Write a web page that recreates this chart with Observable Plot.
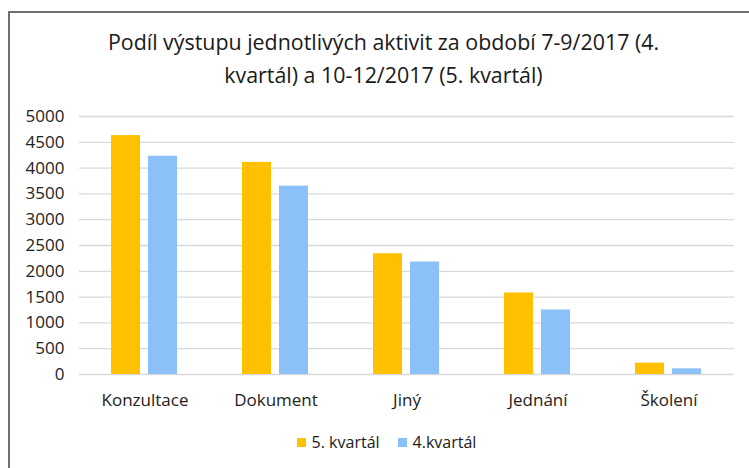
<!DOCTYPE html>
<html>
<head>
<meta charset="utf-8">
<script src="https://cdn.jsdelivr.net/npm/d3@7"></script>
<script src="https://cdn.jsdelivr.net/npm/@observablehq/plot@0.6"></script>
<style>
  html, body { margin: 0; padding: 0; background: #fff; overflow: hidden; }
  #wrap { position: relative; width: 749px; height: 468px; overflow: hidden; font-family: "Open Sans", sans-serif; color: #1a1a1a; }
  #frame { position: absolute; left: 8px; top: 11px; width: 900px; height: 700px; border-left: 2px solid #6f6f6f; border-top: 2px solid #6f6f6f; }
  #title { position: absolute; left: 13px; width: 741px; top: 25px; text-align: center; font-size: 21.4px; line-height: 33px; color: #1a1a1a; }
  #chart { position: absolute; left: 0; top: 100px; }
  #legend { position: absolute; left: 0; width: 749px; top: 432px; line-height: 20px; font-size: 16px; display: flex; justify-content: center; padding-left: 24px; box-sizing: border-box; }
  .item { display: flex; align-items: center; margin: 0 9px; }
  .sw { width: 9px; height: 9px; margin-right: 6px; }
</style>
</head>
<body>
<div id="wrap">
  <div id="frame"></div>
  <div id="title"></div>
  <div id="chart"></div>
  <div id="legend"></div>
</div>
<script>
const titleLines = ["Podíl výstupu jednotlivých aktivit za období 7-9/2017 (4.", "kvartál) a 10-12/2017 (5. kvartál)"];
const categories = ["Konzultace", "Dokument", "Jiný", "Jednání", "Školení"];
const seriesNames = ["5. kvartál", "4.kvartál"];
const seriesColors = ["#FFC000", "#8CC0F8"];
const q5Values = [4630, 4110, 2340, 1580, 220];
const q4Values = [4230, 3650, 2180, 1250, 110];
const yTicks = [0, 500, 1000, 1500, 2000, 2500, 3000, 3500, 4000, 4500, 5000];

const rows = [];
categories.forEach((c, i) => {
  rows.push({category: c, series: seriesNames[0], value: q5Values[i]});
  rows.push({category: c, series: seriesNames[1], value: q4Values[i]});
});

document.getElementById("title").innerHTML = titleLines.map(t => `<div>${t}</div>`).join("");

const chart = Plot.plot({
  width: 749,
  height: 320,
  marginLeft: 77,
  marginRight: 13,
  marginTop: 16,
  marginBottom: 46,
  style: {fontFamily: "Open Sans, sans-serif", fontSize: "17px", color: "#222", background: "transparent"},
  fx: {domain: categories, paddingInner: 0, paddingOuter: 0, label: null},
  x: {domain: seriesNames, paddingInner: 0.213, paddingOuter: 0.864, axis: null},
  y: {domain: [0, 5000], label: null},
  color: {domain: seriesNames, range: seriesColors},
  marks: [
    Plot.ruleY(yTicks, {stroke: "#d9d9d9", strokeWidth: 1.3}),
    Plot.barY(rows, {fx: "category", x: "series", y: "value", fill: "series"}),
    Plot.axisY({ticks: yTicks, tickSize: 0, tickPadding: 15, tickFormat: d3.format("d"), label: null, fill: "#222", fontSize: 17}),
    Plot.axisFx({anchor: "bottom", tickSize: 0, tickPadding: 19, label: null, fill: "#222", fontSize: 17})
  ]
});
document.getElementById("chart").appendChild(chart);

document.getElementById("legend").innerHTML = seriesNames.map((s, i) =>
  `<div class="item"><div class="sw" style="background:${seriesColors[i]}"></div><span>${s}</span></div>`).join("");
</script>
</body>
</html>
